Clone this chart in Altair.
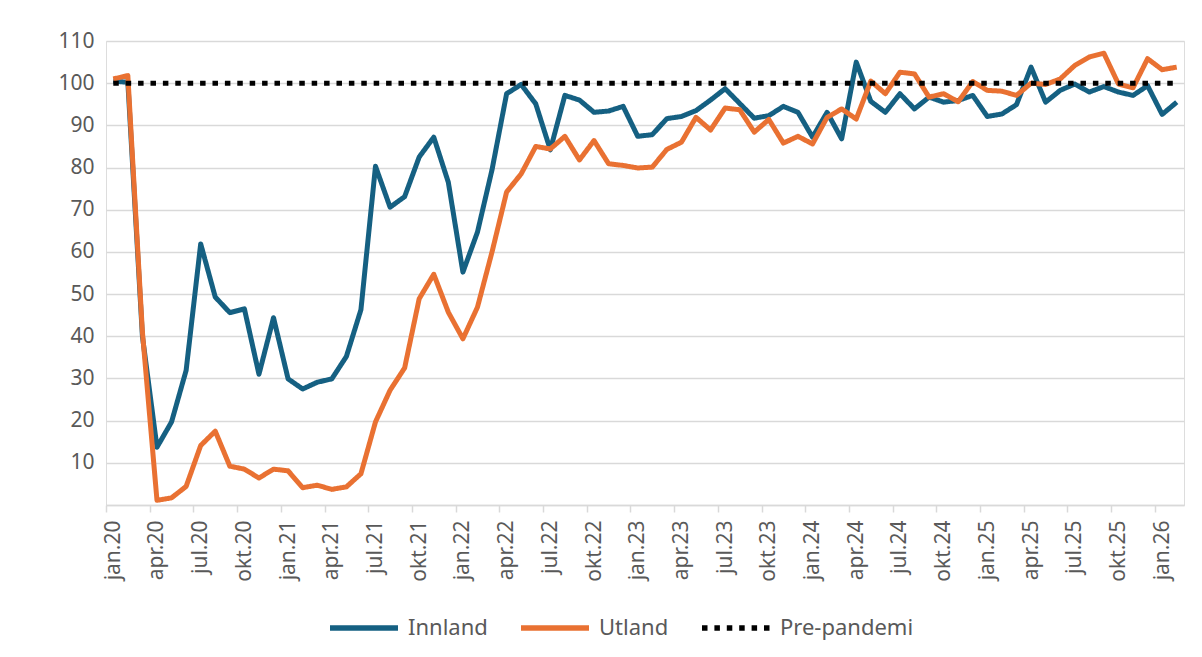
import altair as alt
import pandas as pd

month_names = ["jan", "feb", "mar", "apr", "mai", "jun", "jul", "aug", "sep", "okt", "nov", "des"]
years = ["20", "21", "22", "23", "24", "25", "26"]
months = [f"{m}.{y}" for y in years for m in month_names][:74]  # jan.20 .. feb.26

innland = [100.5, 100.2, 40.0, 13.7, 19.7, 31.9, 61.9, 49.3, 45.6, 46.5, 31.0, 44.4, 29.9, 27.5,
           29.1, 29.9, 35.2, 46.3, 80.3, 70.6, 73.1, 82.5, 87.2, 76.5, 55.2, 64.7,
           79.5, 97.5, 99.7, 95.1, 84.2, 97.1, 96.0, 93.1, 93.4, 94.5, 87.4, 87.8, 91.6,
           92.1, 93.5, 96.0, 98.7, 95.2, 91.7, 92.3, 94.5, 93.1, 87.2, 93.1, 86.8,
           105.0, 95.7, 93.1, 97.5, 93.9, 96.7, 95.5, 95.9, 97.1, 92.1, 92.7,
           94.9, 103.8, 95.5, 98.3, 99.8, 97.9, 99.2, 97.9, 97.1, 99.4, 92.6, 95.5]

utland = [101.0, 101.8, 41.0, 1.1, 1.7, 4.4, 14.1, 17.5, 9.2, 8.5, 6.4, 8.5, 8.1, 4.1,
          4.7, 3.7, 4.3, 7.4, 19.7, 27.2, 32.5, 48.9, 54.7, 45.7, 39.4, 46.9,
          60.0, 74.2, 78.5, 85.0, 84.4, 87.4, 81.8, 86.4, 80.9, 80.5, 79.9, 80.1, 84.3,
          86.0, 91.9, 88.9, 94.1, 93.7, 88.4, 91.4, 85.8, 87.4, 85.6, 91.9, 93.9,
          91.5, 100.5, 97.5, 102.6, 102.2, 96.7, 97.5, 95.6, 100.4, 98.3, 98.1,
          97.1, 100.0, 99.7, 101.0, 104.2, 106.2, 107.1, 99.8, 98.9, 105.8, 103.2, 103.8]

pre_pandemi_level = 100

series_names = ["Innland", "Utland", "Pre-pandemi"]
series_colors = ["#156082", "#E97132", "#000000"]
series_dash = [[1, 0], [1, 0], [5.5, 6.9]]

y_ticks = [0, 10, 20, 30, 40, 50, 60, 70, 80, 90, 100, 110]

rows = []
for i, m in enumerate(months):
    rows.append({"i": i, "month": m, "series": "Innland", "value": innland[i]})
for i, m in enumerate(months):
    rows.append({"i": i, "month": m, "series": "Utland", "value": utland[i]})
for i, m in enumerate(months):
    rows.append({"i": i, "month": m, "series": "Pre-pandemi", "value": pre_pandemi_level})
df = pd.DataFrame(rows)

n = len(months)
tick_vals = [k - 0.5 for k in range(0, n, 3)]
label_array = "[" + ",".join("'" + m + "'" for m in months) + "]"

FONT = "Noto Sans"
GRAY_TXT = "#595959"
GRID = "#d9d9d9"

W, H = 1078, 464
step = W / n

x_enc = alt.X(
    "i:Q",
    scale=alt.Scale(domain=[-0.5, n - 0.5], nice=False, zero=False),
    axis=alt.Axis(
        values=tick_vals,
        labelExpr=label_array + "[round(datum.value + 0.5)]",
        labelAngle=-90,
        labelAlign="right",
        labelBaseline="middle",
        labelOffset=step / 2,
        labelPadding=8,
        labelFontSize=21,
        labelFont=FONT,
        labelColor=GRAY_TXT,
        tickSize=7,
        tickColor=GRID,
        tickWidth=1.5,
        domainColor=GRID,
        domainWidth=1.5,
        grid=False,
        title=None,
        labelOverlap=False,
    ),
)
y_enc = alt.Y(
    "value:Q",
    scale=alt.Scale(domain=[0, 110], nice=False),
    axis=alt.Axis(
        values=y_ticks,
        labelExpr="datum.value == 0 ? '' : datum.label",
        labelFontSize=21,
        labelFont=FONT,
        labelColor=GRAY_TXT,
        labelPadding=12,
        ticks=False,
        domain=False,
        grid=True,
        gridColor=GRID,
        gridWidth=1.5,
        title=None,
    ),
)
color_enc = alt.Color(
    "series:N",
    scale=alt.Scale(domain=series_names, range=series_colors),
    legend=alt.Legend(
        title=None,
        orient="none",
        direction="horizontal",
        legendX=221,
        legendY=550,
        symbolType="stroke",
        symbolSize=4624,
        symbolStrokeWidth=5.5,
        labelFontSize=22,
        labelFont=FONT,
        labelColor=GRAY_TXT,
        labelOffset=7,
        columnPadding=22,
        padding=0,
    ),
)
dash_enc = alt.StrokeDash(
    "series:N",
    scale=alt.Scale(domain=series_names, range=series_dash),
    legend=None,
)

base = alt.Chart(df).mark_line(strokeWidth=5, strokeJoin="round", strokeCap="butt").encode(
    x=x_enc, y=y_enc, color=color_enc, strokeDash=dash_enc
)

layers = [base.transform_filter(alt.datum.series == s) for s in series_names]

chart = alt.layer(*layers).properties(
    width=W,
    height=H,
    autosize=alt.AutoSizeParams(type="none"),
    padding={"left": 98, "top": 33, "right": 4, "bottom": 140},
).configure_view(stroke=None).configure(background="white")

chart.save("out.html", embed_options={"renderer": "svg", "actions": False})
